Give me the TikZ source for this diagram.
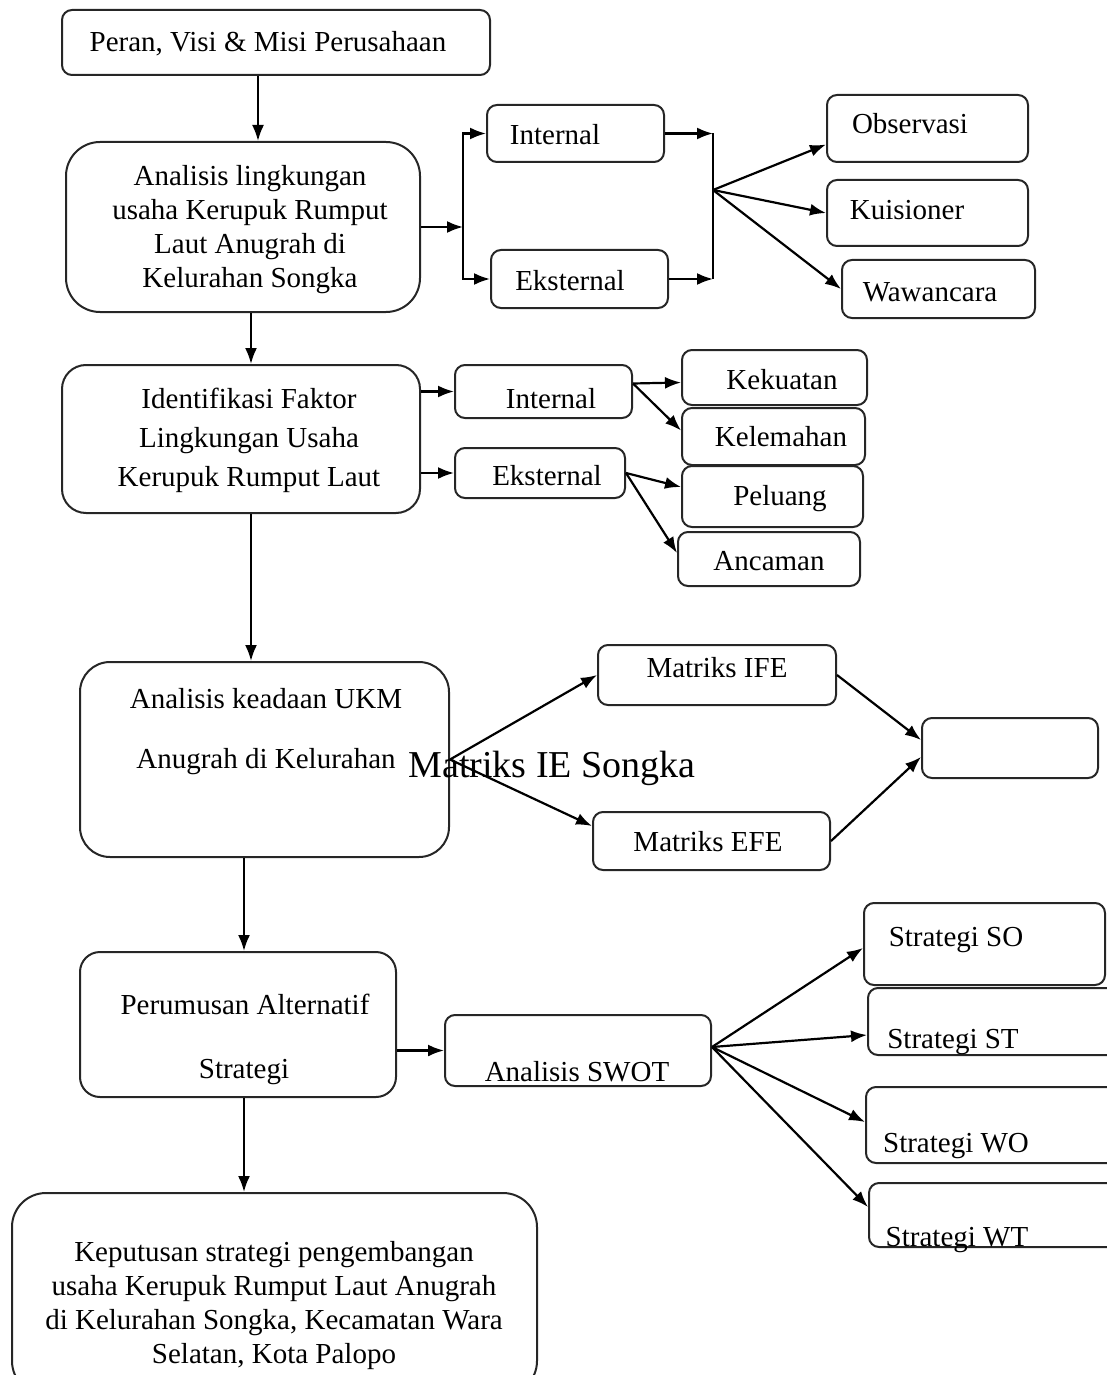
\documentclass[tikz,border=0pt]{standalone}
\usepackage{fontspec}
\setmainfont{Liberation Serif}
\usetikzlibrary{fit,arrows.meta}
\begin{document}
\begin{tikzpicture}[x=0.5pt,y=-0.5pt,
  box/.style={draw=black!85, line width=1pt, rounded corners=5pt, inner sep=0pt},
  txt/.style={anchor=base, inner sep=0pt, font=\fontsize{14.5}{17}\selectfont},
  mtxt/.style={anchor=center, inner sep=0pt, align=center, font=\fontsize{14.5}{17}\selectfont},
  arr/.style={line width=1.1pt, -{Latex[length=8pt,width=6pt]}},
  ln/.style={line width=1.1pt}]
\useasboundingbox (0,0) rectangle (1107,1375);
% boxes
\node[box, fit={(62,10)(490,75)}] (peran) {};
\node[box, rounded corners=17pt, fit={(66,142)(420,312)}] (lingk) {};
\node[box, fit={(487,105)(664,162)}] (int1) {};
\node[box, fit={(491,250)(668,308)}] (eks1) {};
\node[box, fit={(827,95)(1028,162)}] (obs) {};
\node[box, fit={(827,180)(1028,246)}] (kui) {};
\node[box, fit={(842,260)(1035,318)}] (waw) {};
\node[box, rounded corners=12pt, fit={(62,365)(420,513)}] (ident) {};
\node[box, fit={(455,365)(632,418)}] (int2) {};
\node[box, fit={(455,448)(625,498)}] (eks2) {};
\node[box, fit={(682,350)(867,405)}] (kek) {};
\node[box, fit={(682,408)(865,465)}] (kel) {};
\node[box, fit={(682,466)(863,527)}] (pel) {};
\node[box, fit={(678,532)(860,586)}] (anc) {};
\node[box, rounded corners=15pt, fit={(80,662)(449,857)}] (ukm) {};
\node[box, fit={(598,645)(836,705)}] (ife) {};
\node[box, fit={(593,812)(830,870)}] (efe) {};
\node[box, fit={(922,718)(1098,778)}] (ie) {};
\node[box, rounded corners=10pt, fit={(80,952)(396,1097)}] (rumus) {};
\node[box, fit={(445,1015)(711,1086)}] (swot) {};
\node[box, fit={(864,903)(1105,985)}] (so) {};
\node[box, fit={(868,988)(1125,1055)}] (st) {};
\node[box, fit={(866,1087)(1125,1163)}] (wo) {};
\node[box, fit={(869,1183)(1125,1247)}] (wt) {};
\node[box, rounded corners=17pt, fit={(12,1193)(537,1395)}] (kep) {};
% texts
\node[txt] (tperan) at (268,52) {Peran, Visi \& Misi Perusahaan};
\node[mtxt] (tlingk) at (250,230) {Analisis lingkungan\\usaha Kerupuk Rumput\\Laut Anugrah di\\Kelurahan Songka};
\node[txt] (tint1) at (555,145) {Internal};
\node[txt] (teks1) at (570,290) {Eksternal};
\node[txt] (tobs) at (910,134) {Observasi};
\node[txt] (tkui) at (907,220) {Kuisioner};
\node[txt] (twaw) at (930,301) {Wawancara};
\node[mtxt, font=\fontsize{14.5}{19.5}\selectfont] (tident) at (249,440) {Identifikasi Faktor\\Lingkungan Usaha\\Kerupuk Rumput Laut};
\node[txt] (tint2) at (551,408) {Internal};
\node[txt] (teks2) at (547,485) {Eksternal};
\node[txt] (tkek) at (782,389) {Kekuatan};
\node[txt] (tkel) at (781,446) {Kelemahan};
\node[txt] (tpel) at (780,505) {Peluang};
\node[txt] (tanc) at (769,570) {Ancaman};
\node[txt] (tukm1) at (266,708) {Analisis keadaan UKM};
\node[txt] (tukm2) at (266,768) {Anugrah di Kelurahan};
\node[txt, font=\fontsize{19}{22}\selectfont] (tie) at (552,777) {Matriks IE Songka};
\node[txt] (tife) at (717,677) {Matriks IFE};
\node[txt] (tefe) at (708,851) {Matriks EFE};
\node[txt] (trumus1) at (245,1014) {Perumusan Alternatif};
\node[txt] (trumus2) at (244,1078) {Strategi};
\node[txt] (tswot) at (577,1081) {Analisis SWOT};
\node[txt] (tso) at (956,946) {Strategi SO};
\node[txt] (tst) at (953,1048) {Strategi ST};
\node[txt] (two) at (956,1152) {Strategi WO};
\node[txt] (twt) at (957,1246) {Strategi WT};
\node[mtxt] (tkep) at (274,1306) {Keputusan strategi pengembangan\\usaha Kerupuk Rumput Laut Anugrah\\di Kelurahan Songka, Kecamatan Wara\\Selatan, Kota Palopo};
% connectors
\coordinate (j1) at (463,227);
\coordinate (j2) at (713,190);
\draw[arr] ([xshift=-9pt]peran.south) -- ([xshift=-9pt]peran.south |- lingk.north);
\draw[arr] (lingk.east) -- (j1);
\draw[arr] (j1) |- (int1.west);
\draw[arr] (j1) |- (eks1.west);
\draw[arr] (int1.east) -- (int1.east -| j2);
\draw[arr] (eks1.east) -- (eks1.east -| j2);
\draw[ln] (int1.east -| j2) -- (eks1.east -| j2);
\draw[arr] (j2) -- ([yshift=-8pt]obs.west);
\draw[arr] (j2) -- (kui.west);
\draw[arr] (j2) -- (waw.west);
\draw[arr] ([xshift=4pt]lingk.south) -- ([xshift=4pt]lingk.south |- ident.north);
\draw[arr] (int2.west -| ident.east) -- (int2.west);
\draw[arr] (eks2.west -| ident.east) -- (eks2.west);
\draw[arr] ([yshift=4pt]int2.east) -- ([yshift=-2.5pt]kek.west);
\draw[arr] ([yshift=4pt]int2.east) -- ([yshift=3pt]kel.west);
\draw[arr] (eks2.east) -- ([yshift=4.75pt]pel.west);
\draw[arr] (eks2.east) -- ([yshift=3pt]anc.west);
\draw[arr] ([xshift=5pt]ident.south) -- ([xshift=5pt]ident.south |- ukm.north);
\draw[arr] (ukm.east) -- (ife.west);
\draw[arr] (ukm.east) -- ([yshift=7.5pt]efe.west);
\draw[arr] (ife.east) -- ([yshift=4pt]ie.west);
\draw[arr] (efe.east) -- ([yshift=-4.5pt]ie.west);
\draw[arr] ([xshift=-10.25pt]ukm.south) -- ([xshift=-10.25pt]ukm.south |- rumus.north);
\draw[arr] (swot.west -| rumus.east) -- (swot.west);
\draw[arr] ([yshift=1.75pt]swot.east) -- ([yshift=-2pt]so.west);
\draw[arr] ([yshift=1.75pt]swot.east) -- ([yshift=-6.75pt]st.west);
\draw[arr] ([yshift=1.75pt]swot.east) -- ([yshift=1.5pt]wo.west);
\draw[arr] ([yshift=1.75pt]swot.east) -- ([yshift=4pt]wt.west);
\draw[arr] ([xshift=3pt]rumus.south) -- ([xshift=3pt]rumus.south |- kep.north);
\end{tikzpicture}
\end{document}
